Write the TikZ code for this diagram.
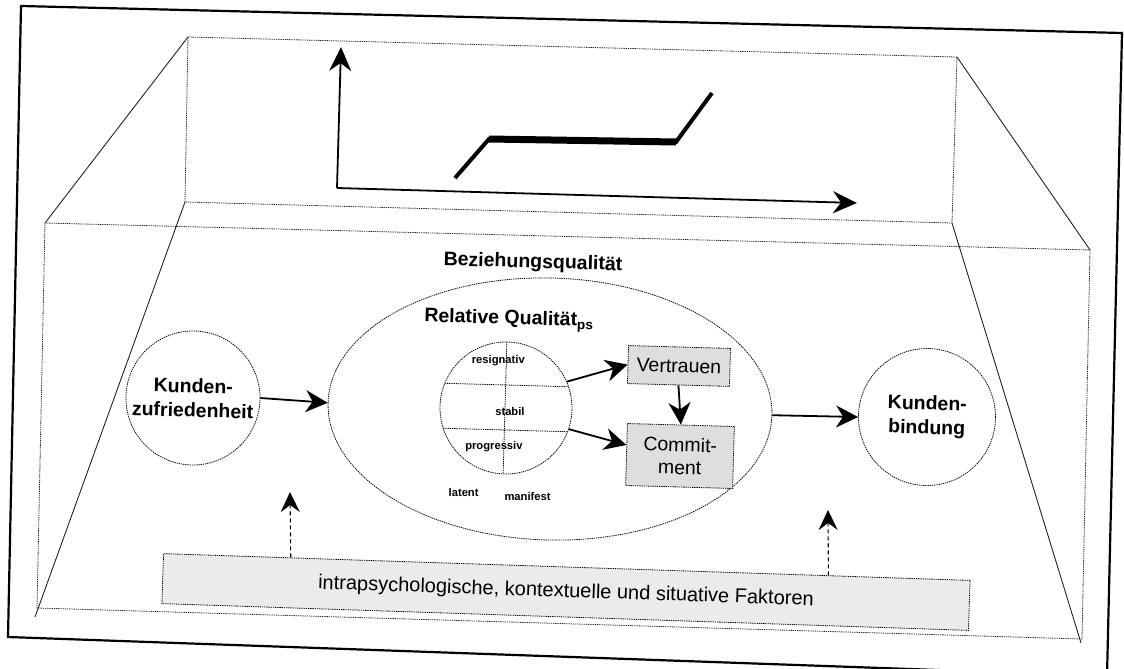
\documentclass[tikz,border=0pt]{standalone}
\usepackage{fontspec}
\setmainfont{Liberation Sans}
\usetikzlibrary{arrows.meta,shapes.geometric,calc}

\begin{document}
\begin{tikzpicture}[x=1pt,y=-1pt,
  frame/.style={line width=2.2pt, line join=miter},
  edge/.style={line width=0.8pt, dash pattern=on 1.3pt off 0.9pt, black!85},
  ridge/.style={line width=0.85pt, black!90},
  ring/.style={circle, draw, line width=0.8pt, dash pattern=on 1.3pt off 0.9pt, inner sep=0pt},
  tick/.style={line width=0.8pt, dash pattern=on 1.3pt off 0.9pt},
  arr/.style={line width=1.8pt, -{Stealth[length=22pt,width=22pt,inset=7pt]}},
  darr/.style={line width=1.1pt, dash pattern=on 4pt off 3pt, -{Stealth[length=20pt,width=19pt,inset=7pt]}},
  axis/.style={line width=1.8pt, -{Stealth[length=24pt,width=22pt,inset=8pt]}},
  tilt/.style={rotate=-1.6},
  big/.style={font=\fontsize{19.5}{24}\selectfont\bfseries, align=center},
  small/.style={font=\fontsize{11.2}{13}\selectfont\bfseries, inner sep=0pt},
  fbox/.style={draw, line width=0.8pt, dash pattern=on 1.3pt off 0.9pt, fill=black!13,
    font=\fontsize{19.5}{23}\selectfont, align=center, inner sep=0pt},
]
\useasboundingbox (0,0) rectangle (1124,669);
\clip (0,0) rectangle (1124,669);

% outer frame
\draw[frame] (21,6) -- (1122,33) -- (1107,676) -- (8,637) -- cycle;

% back wall and front face of the box
\coordinate (BTL) at (188,37);  \coordinate (BTR) at (957,57);
\coordinate (BBR) at (952,223); \coordinate (BBL) at (185,202);
\coordinate (FTL) at (45,223);  \coordinate (FTR) at (1090,250);
\coordinate (FBR) at (1082,639); \coordinate (FBL) at (37,608);
\coordinate (FBLx) at (35,617); \coordinate (FBRx) at (1081,643);
\draw[edge] (BTL) -- (BTR) -- (BBR) -- (BBL) -- cycle;
\draw[edge] (FTL) -- (FTR) -- (FBR) -- (FBL) -- cycle;
\draw[ridge] (BTL) -- (FTL);
\draw[ridge] (BTR) -- (FTR);
\draw[ridge] (BBL) -- (FBLx);
\draw[ridge] (BBR) -- (FBRx);

% chart on the back wall
\coordinate (ax0) at (337,188);
\coordinate (axY) at (341,47);
\coordinate (axX) at (857,203);
\draw[axis] (ax0) -- (axY);
\draw[axis] (ax0) -- (axX);
\coordinate (s1) at (455,178); \coordinate (s2) at (489,139);
\coordinate (s3) at (676,142); \coordinate (s4) at (712,93);
\draw[line width=4pt, line cap=butt, line join=miter] (s1) -- (s2) -- (s3) -- (s4);
\draw[line width=7pt] (s2) -- (s3);

% relationship quality
\node[big, tilt] (bqt) at (533,263) {Beziehungsqualität};
\node[ellipse, draw, line width=0.8pt, dash pattern=on 1.3pt off 0.9pt,
      minimum width=444pt, minimum height=262pt, tilt] (bq) at (550,409) {};
\node[big, tilt] (rqt) at (509,320) {Relative Qualität\textsubscript{ps}};

% small circle with its sectors
\node[ring, minimum size=132pt, tilt] (rq) at (506,408) {};
\begin{scope}[shift={(rq.center)}, rotate=-1.6]
  \draw[tick] (-61.9,-23) -- (61.9,-23);
  \draw[tick] (-62.2,22) -- (62.2,22);
  \draw[tick] (-1,-66) -- (-1,66);
  \node[small] (lres) at (-9,-47) {resignativ};
  \node[small] (lsta) at (4,3) {stabil};
  \node[small] (lpro) at (-11,39) {progressiv};
  \node[small] (llat) at (-40,86) {latent};
  \node[small] (lman) at (24,88) {manifest};
\end{scope}

\node[fbox, minimum width=102pt, minimum height=38pt, tilt] (vt) at (679,366) {Vertrauen};
\node[fbox, minimum width=107pt, minimum height=62pt, tilt] (cm) at (680,456) {Commit-\\ment};

% customer satisfaction and loyalty
\node[ring, minimum size=134pt, label={[big, tilt]center:Kunden-\\zufriedenheit}] (kz) at (193,398) {};
\node[ring, minimum size=137pt, label={[big, tilt]center:Kunden-\\bindung}] (kb) at (927,417) {};

% influencing factors
\node[draw, line width=0.8pt, dash pattern=on 1.3pt off 0.9pt, fill=black!8,
      minimum width=807pt, minimum height=50pt, rotate=-1.9, inner sep=0pt,
      font=\fontsize{20}{24}\selectfont] (fk) at (566,592)
      {intrapsychologische, kontextuelle und situative Faktoren};

% connectors
\draw[arr] (kz.east) -- (bq.west);
\draw[arr] (bq.east) -- (kb.west);
\draw[arr] (rq.25) -- (vt.west);
\draw[arr] (rq.-17) -- (cm.170);
\draw[arr] (vt.south) -- (cm.north);
\coordinate (upL) at (290,492);
\coordinate (upR) at (828,510);
\draw[darr] ($(fk.north west)!0.158!(fk.north east)$) -- (upL);
\draw[darr] ($(fk.north west)!0.824!(fk.north east)$) -- (upR);
\end{tikzpicture}
\end{document}
